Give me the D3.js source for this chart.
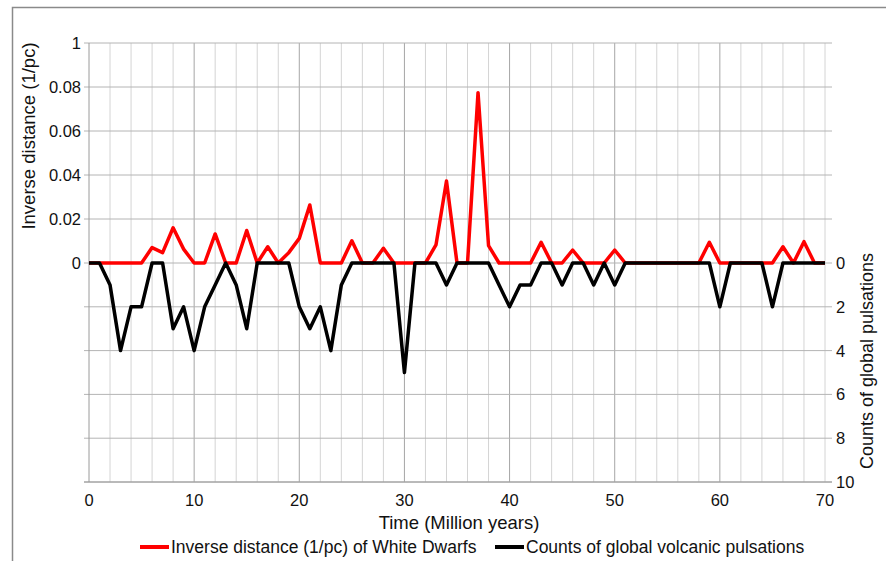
<!DOCTYPE html>
<html>
<head>
<meta charset="utf-8">
<script src="https://cdn.jsdelivr.net/npm/d3@7"></script>
<style>
  body { margin: 0; background: #fff; }
  svg text { font-family: "Liberation Sans", Arial, sans-serif; fill: #111; }
</style>
</head>
<body>
<div class="graph"></div>
<script>
// time in million years
var years = [0,1,2,3,4,5,6,7,8,9,10,11,12,13,14,15,16,17,18,19,20,
    21,22,23,24,25,26,27,28,29,30,31,32,33,34,35,36,37,38,39,40,
    41,42,43,44,45,46,47,48,49,50,51,52,53,54,55,56,57,58,59,60,
    61,62,63,64,65,66,67,68,69,70];

// inverse distance (1/pc) of white dwarfs
var inverseDistance = [0,0,0,0,0,0,0.007,0.0047,0.016,0.0063,0,
    0,0.0132,0,0,0.0148,0,0.0074,0,0.0047,0.0112,
    0.0264,0,0,0,0.0101,0,0,0.0067,0,0,
    0,0,0.0082,0.0373,0,0,0.0774,0.0079,0,0,
    0,0,0.0094,0,0,0.0059,0,0,0,0.0059,
    0,0,0,0,0,0,0,0,0.0094,0,
    0,0,0,0,0,0.0074,0,0.0097,0,0];

// counts of global volcanic pulsations
var pulsations = [0,0,1,4,2,2,0,0,3,2,4,
    2,1,0,1,3,0,0,0,0,2,
    3,2,4,1,0,0,0,0,0,5,
    0,0,0,1,0,0,0,0,1,2,
    1,1,0,0,1,0,0,1,0,1,
    0,0,0,0,0,0,0,0,0,2,
    0,0,0,0,2,0,0,0,0,0];

var xTicks = [0,10,20,30,40,50,60,70];
var leftTicks = [0,0.02,0.04,0.06,0.08,0.1];
var leftTickLabels = ['0','0.02','0.04','0.06','0.08','1'];
var rightTicks = [0,2,4,6,8,10];
var xGrid = [2,4,6,8,10,12,14,16,18,20,22,24,26,28,30,32,34,36,38,40,
    42,44,46,48,50,52,54,56,58,60,62,64,66,68,70];

var seriesNames = ['Inverse distance (1/pc) of White Dwarfs', 'Counts of global volcanic pulsations'];
var seriesColors = ['#ff0000', '#000000'];

var width = 886,
    height = 561;

var svg = d3.select('div.graph')
    .append('svg')
        .attr('width', width)
        .attr('height', height);

// outer frame
svg.append('rect')
    .attr('x', 12.5)
    .attr('y', 7.5)
    .attr('width', width)
    .attr('height', height)
    .style('fill', 'none')
    .style('stroke', '#8a8a8a')
    .style('stroke-width', 1.5);

var x = d3.scaleLinear()
    .domain([0, 70])
    .range([89, 825]);

var yLeft = d3.scaleLinear()
    .domain([0, 0.1])
    .range([263, 43]);

var yRight = d3.scaleLinear()
    .domain([0, 10])
    .range([263, 482]);

// vertical grid, darker every 10
svg.append('g')
    .selectAll('line')
    .data(xGrid)
    .enter()
    .append('line')
        .attr('x1', d => x(d))
        .attr('x2', d => x(d))
        .attr('y1', yLeft(0.1))
        .attr('y2', yRight(10))
        .style('stroke', d => (d % 10 === 0 && d < 70) ? '#a6a6a6' : '#d4d4d4')
        .style('stroke-width', 1);

// horizontal grid with ticks on both sides
var hLines = leftTicks.map(d => yLeft(d)).concat(rightTicks.slice(1).map(d => yRight(d)));
svg.append('g')
    .selectAll('line')
    .data(hLines)
    .enter()
    .append('line')
        .attr('x1', 84)
        .attr('x2', 832)
        .attr('y1', d => d)
        .attr('y2', d => d)
        .style('stroke', '#b4b4b4')
        .style('stroke-width', 1);

// axis lines
svg.append('line')
    .attr('x1', x(0)).attr('x2', x(0))
    .attr('y1', yLeft(0.1)).attr('y2', yRight(10))
    .style('stroke', '#9a9a9a');
svg.append('line')
    .attr('x1', 84).attr('x2', 832)
    .attr('y1', yRight(10)).attr('y2', yRight(10))
    .style('stroke', '#9a9a9a');

// tick labels
svg.append('g')
    .selectAll('text')
    .data(xTicks)
    .enter()
    .append('text')
        .attr('x', d => x(d))
        .attr('y', 506)
        .attr('text-anchor', 'middle')
        .style('font-size', '16.5px')
        .text(d => d);

svg.append('g')
    .selectAll('text')
    .data(leftTicks)
    .enter()
    .append('text')
        .attr('x', 81)
        .attr('y', d => yLeft(d) + 6)
        .attr('text-anchor', 'end')
        .style('font-size', '16.5px')
        .text((d, i) => leftTickLabels[i]);

svg.append('g')
    .selectAll('text')
    .data(rightTicks)
    .enter()
    .append('text')
        .attr('x', 836)
        .attr('y', d => yRight(d) + 6)
        .attr('text-anchor', 'start')
        .style('font-size', '16.5px')
        .text(d => d);

// axis titles
svg.append('text')
    .attr('x', 459)
    .attr('y', 529)
    .attr('text-anchor', 'middle')
    .style('font-size', '18.5px')
    .text('Time (Million years)');

svg.append('text')
    .attr('transform', 'translate(35,136) rotate(-90)')
    .attr('text-anchor', 'middle')
    .style('font-size', '18.5px')
    .text('Inverse distance (1/pc)');

svg.append('text')
    .attr('transform', 'translate(873,361) rotate(-90)')
    .attr('text-anchor', 'middle')
    .style('font-size', '18px')
    .text('Counts of global pulsations');

// series lines
var redLine = d3.line()
    .x((d, i) => x(years[i]))
    .y(d => yLeft(d));

var blackLine = d3.line()
    .x((d, i) => x(years[i]))
    .y(d => yRight(d));

svg.append('path')
    .datum(inverseDistance)
    .attr('d', redLine)
    .style('fill', 'none')
    .style('stroke', seriesColors[0])
    .style('stroke-width', 3.5)
    .style('stroke-linejoin', 'round');

svg.append('path')
    .datum(pulsations)
    .attr('d', blackLine)
    .style('fill', 'none')
    .style('stroke', seriesColors[1])
    .style('stroke-width', 3.5)
    .style('stroke-linejoin', 'round');

// legend
var legendX = [140, 495];
var legend = svg.append('g')
    .selectAll('g')
    .data(seriesNames)
    .enter()
    .append('g')
        .attr('transform', (d, i) => 'translate(' + legendX[i] + ',547)');

legend.append('line')
    .attr('x1', 0)
    .attr('x2', 29)
    .attr('y1', 0)
    .attr('y2', 0)
    .style('stroke', (d, i) => seriesColors[i])
    .style('stroke-width', 4);

legend.append('text')
    .attr('x', 31)
    .attr('y', 6)
    .style('font-size', '17.5px')
    .text(d => d);
</script>
</body>
</html>
